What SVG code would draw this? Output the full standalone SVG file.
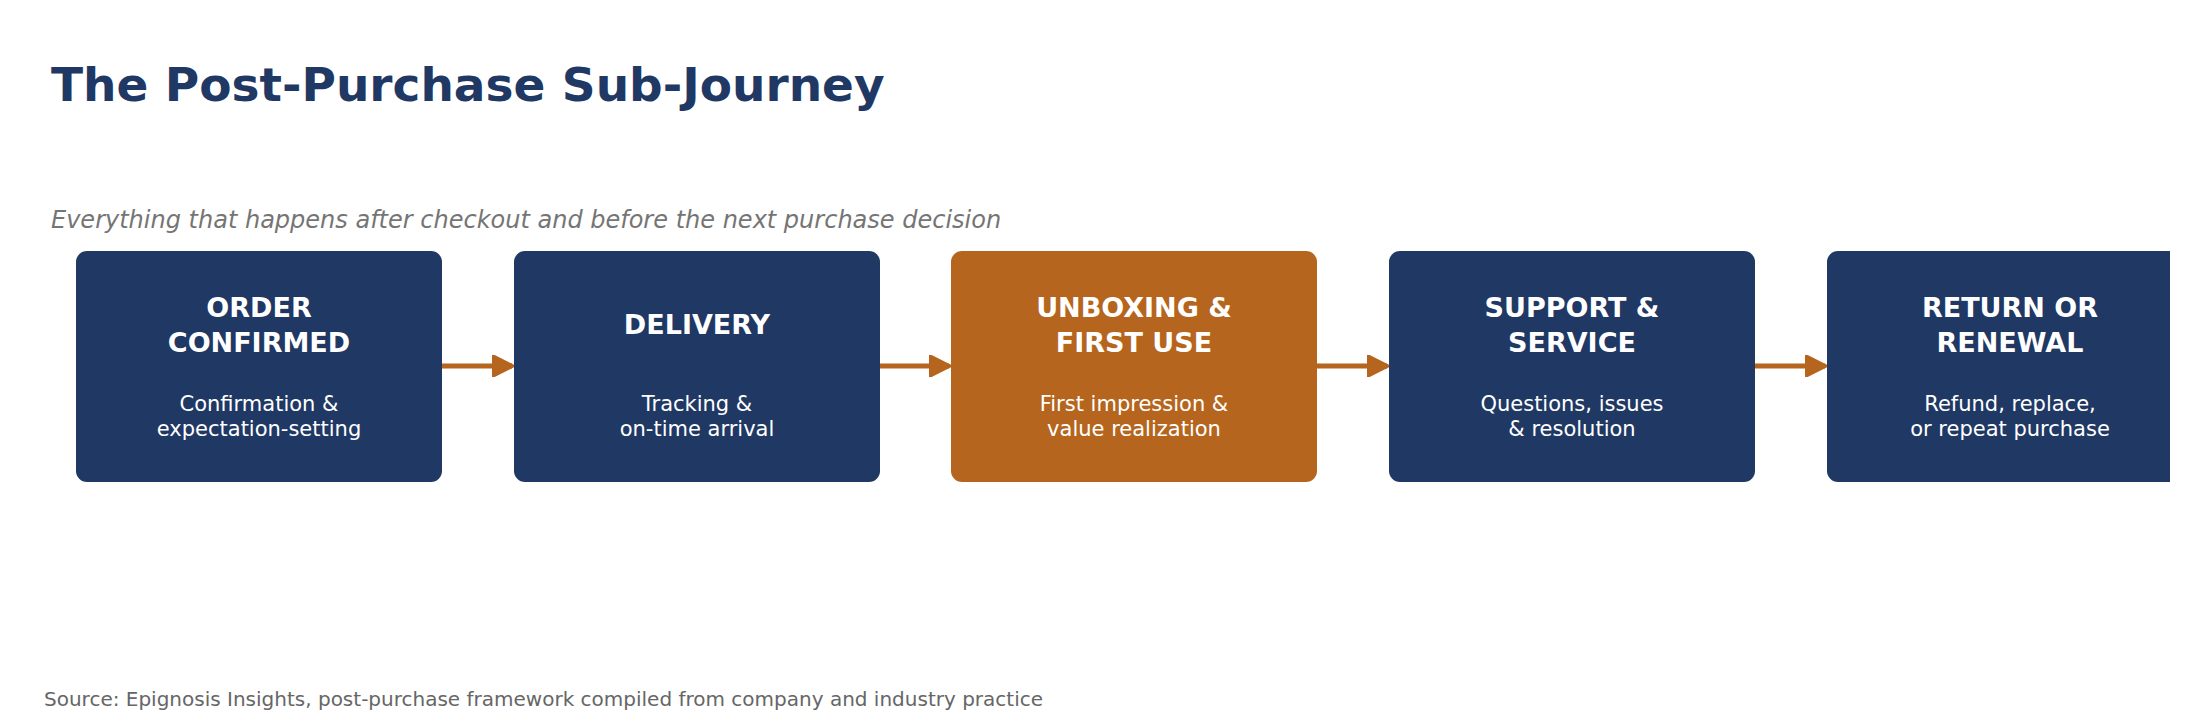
<svg xmlns="http://www.w3.org/2000/svg" width="2200" height="720" viewBox="0 0 2200 720">
<style>
text{font-family:"DejaVu Sans",sans-serif}
.box{fill:#1F3864}
.hl{fill:#B5651D}
.t{fill:#fff;font-size:27px;font-weight:bold;text-anchor:middle}
.d{fill:#fff;font-size:21px;text-anchor:middle}
.c{stroke:#B5651D;stroke-width:5;fill:none}
</style>
<defs>
<marker id="ah" viewBox="0 0 10 10" refX="9" refY="5" markerWidth="4.4" markerHeight="4.4" orient="auto" markerUnits="strokeWidth">
<path d="M0,0 L10,5 L0,10 z" fill="#B5651D" stroke="#B5651D" stroke-linejoin="round"/>
</marker>
<clipPath id="cp"><rect x="0" y="0" width="2170" height="720"/></clipPath>
</defs>
<rect width="2200" height="720" fill="#fff"/>
<text x="51" y="101" font-size="47" font-weight="bold" fill="#1F3864">The Post-Purchase Sub-Journey</text>
<text x="51" y="228" font-size="24" font-style="italic" fill="#757575">Everything that happens after checkout and before the next purchase decision</text>
<g id="connectors">
<line class="c" x1="442" y1="366" x2="512" y2="366" marker-end="url(#ah)"/>
<line class="c" x1="880" y1="366" x2="949" y2="366" marker-end="url(#ah)"/>
<line class="c" x1="1317" y1="366" x2="1387" y2="366" marker-end="url(#ah)"/>
<line class="c" x1="1755" y1="366" x2="1825" y2="366" marker-end="url(#ah)"/>
</g>
<g id="n1"><rect class="box" x="76" y="251" width="366" height="231" rx="11"/>
<text class="t" x="259" y="317">ORDER</text><text class="t" x="259" y="352">CONFIRMED</text>
<text class="d" x="259" y="411">Confirmation &amp;</text><text class="d" x="259" y="436">expectation-setting</text></g>
<g id="n2"><rect class="box" x="514" y="251" width="366" height="231" rx="11"/>
<text class="t" x="697" y="334">DELIVERY</text>
<text class="d" x="697" y="411">Tracking &amp;</text><text class="d" x="697" y="436">on-time arrival</text></g>
<g id="n3"><rect class="hl" x="951" y="251" width="366" height="231" rx="11"/>
<text class="t" x="1134" y="317">UNBOXING &amp;</text><text class="t" x="1134" y="352">FIRST USE</text>
<text class="d" x="1134" y="411">First impression &amp;</text><text class="d" x="1134" y="436">value realization</text></g>
<g id="n4"><rect class="box" x="1389" y="251" width="366" height="231" rx="11"/>
<text class="t" x="1572" y="317">SUPPORT &amp;</text><text class="t" x="1572" y="352">SERVICE</text>
<text class="d" x="1572" y="411">Questions, issues</text><text class="d" x="1572" y="436">&amp; resolution</text></g>
<g id="n5" clip-path="url(#cp)"><rect class="box" x="1827" y="251" width="366" height="231" rx="11"/>
<text class="t" x="2010" y="317">RETURN OR</text><text class="t" x="2010" y="352">RENEWAL</text>
<text class="d" x="2010" y="411">Refund, replace,</text><text class="d" x="2010" y="436">or repeat purchase</text></g>
<text x="44" y="706" font-size="20" fill="#666">Source: Epignosis Insights, post-purchase framework compiled from company and industry practice</text>
</svg>
